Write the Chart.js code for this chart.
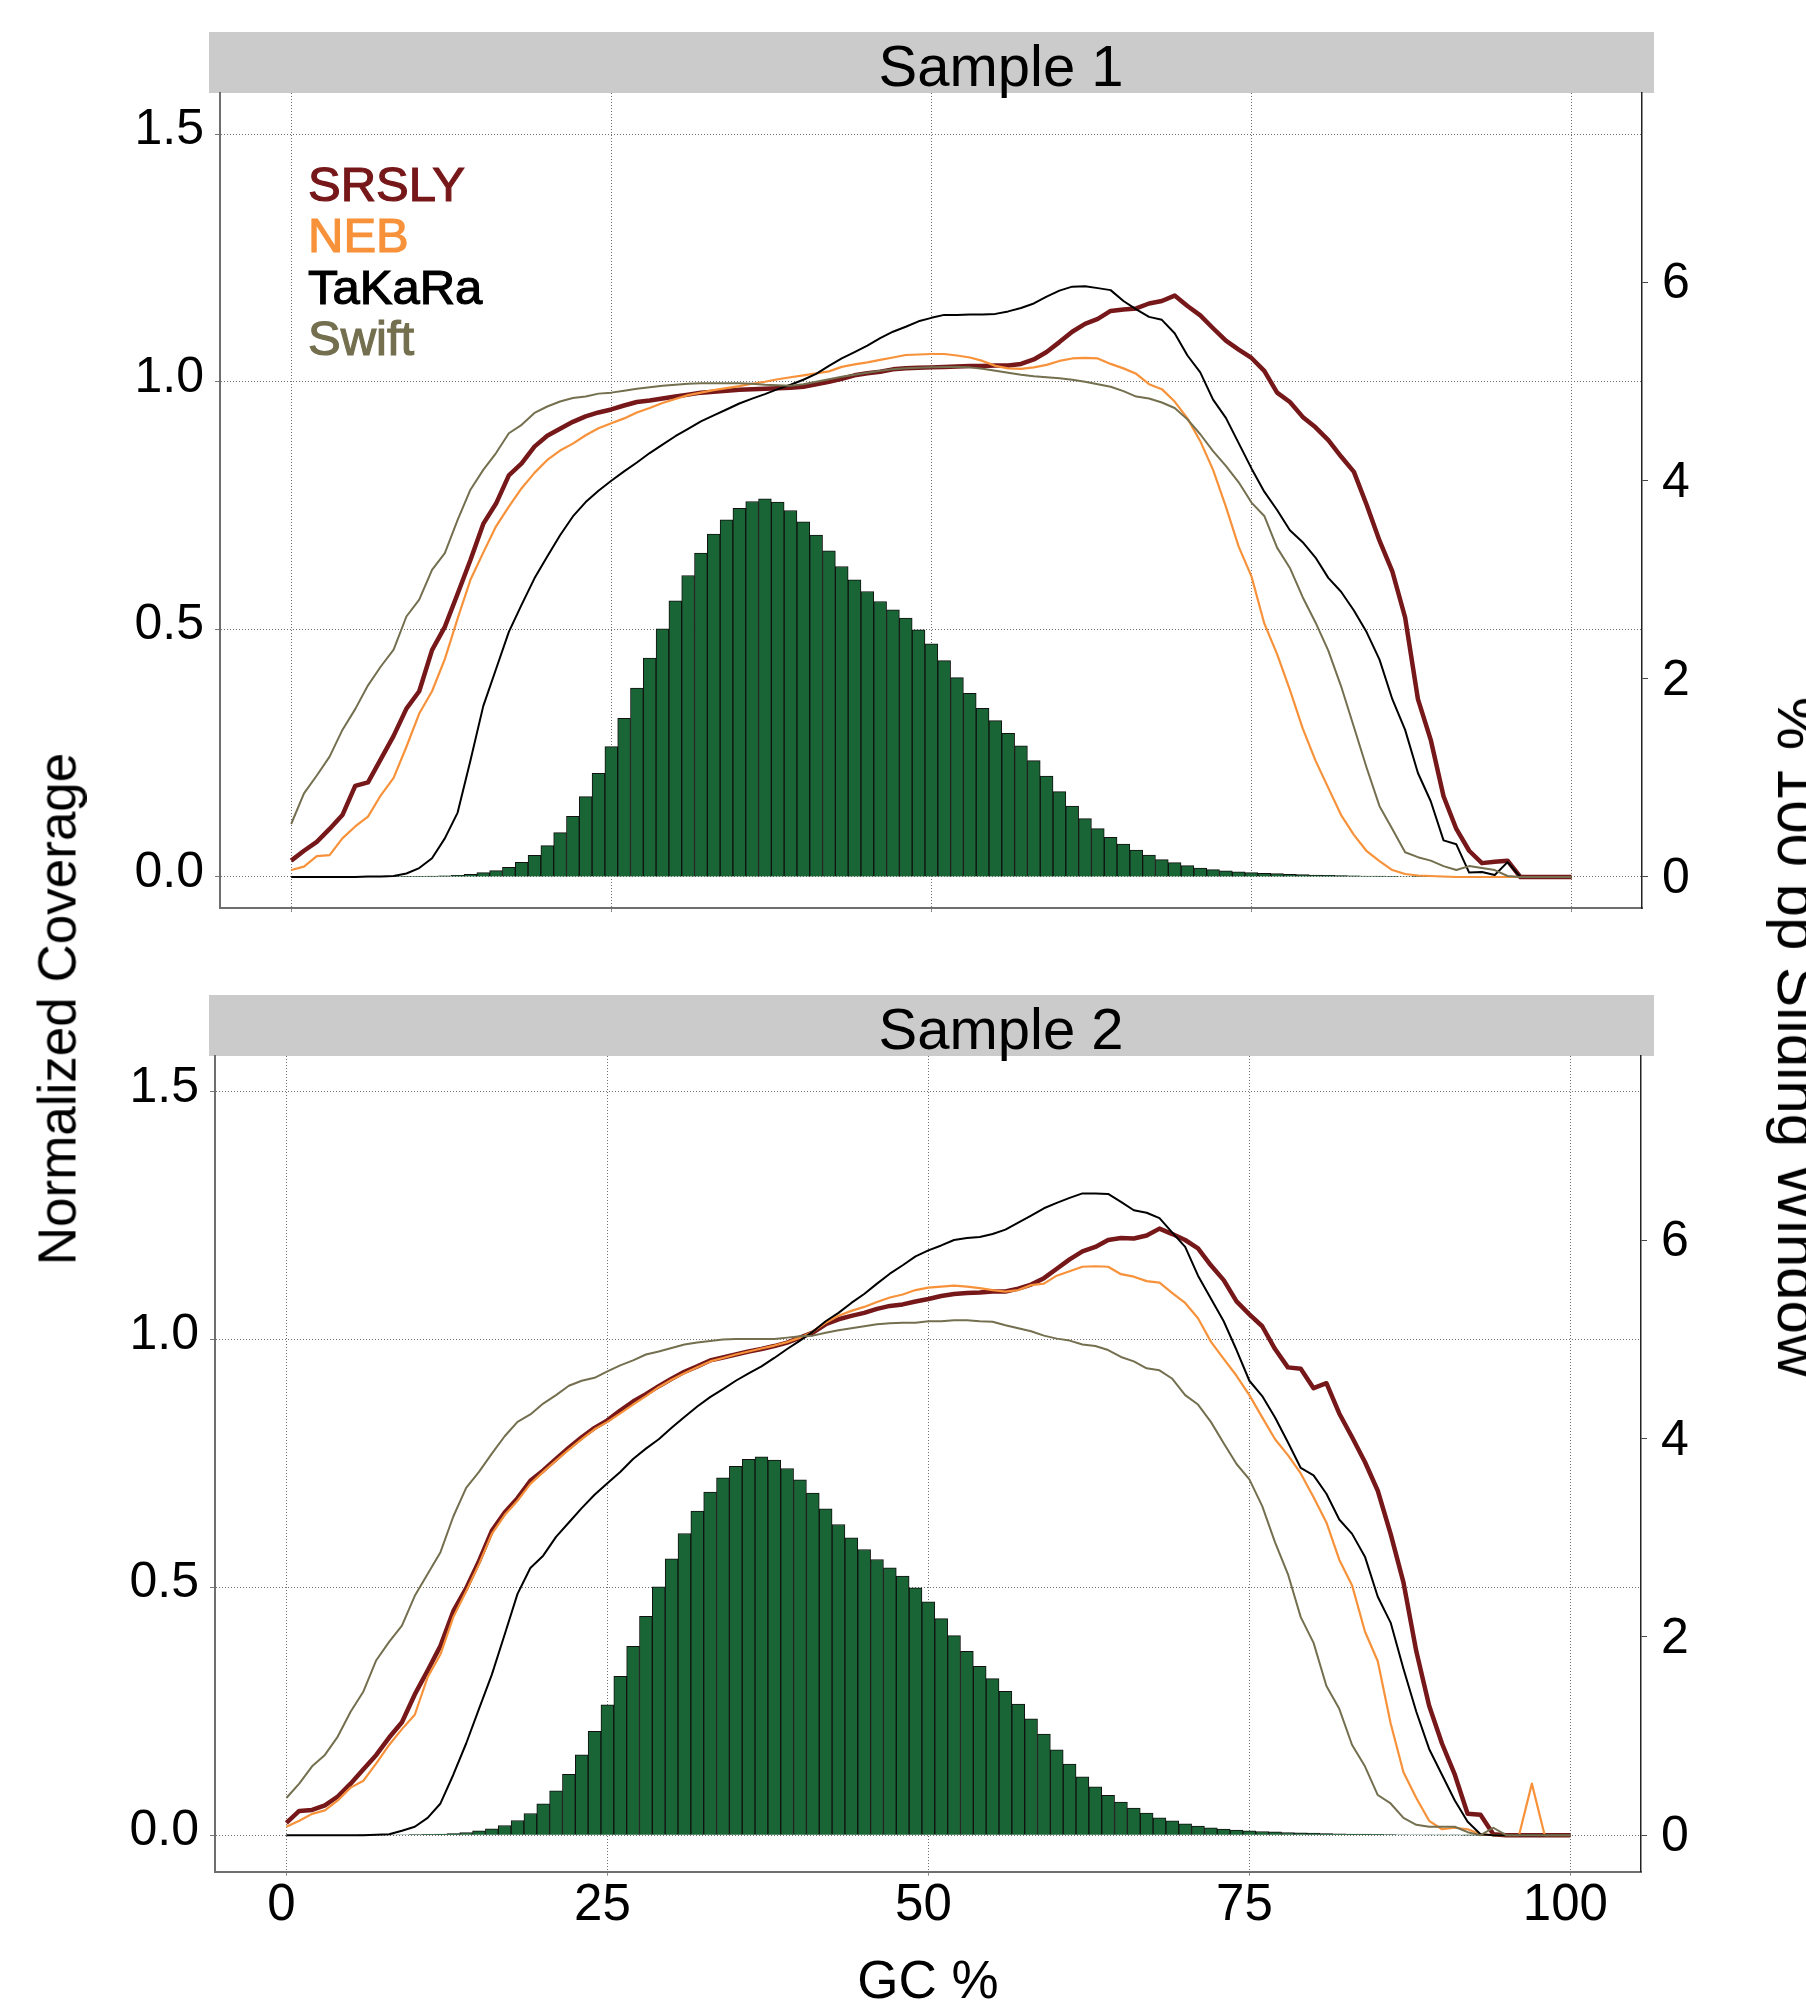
<!DOCTYPE html>
<html lang="en">
<head>
<meta charset="utf-8">
<title>GC bias — Sample 1 / Sample 2</title>
<script src="https://cdn.jsdelivr.net/npm/chart.js@4.4.1/dist/chart.umd.min.js"></script>
<style>
  html, body { margin: 0; padding: 0; background: #fff; overflow: hidden; }
  #page { position: relative; width: 1806px; height: 2008px; font-family: "Liberation Sans", Arial, Helvetica, sans-serif; }
  canvas { position: absolute; left: 0; }
  #panel1 { top: 0; }
  #panel2 { top: 960px; }
  .axis-title { position: absolute; white-space: nowrap; line-height: 1; color: #000; }
  #ytitle-left  { left: 57px;   top: 1009px; font-size: 53px; transform: translate(-50%, -50%) rotate(-90deg); }
  #ytitle-right { left: 1798px; top: 1037px; font-size: 60px; transform: translate(-50%, -50%) rotate(90deg); }
</style>
</head>
<body>
<div id="page">
  <canvas id="panel1" width="1806" height="960"></canvas>
  <canvas id="panel2" width="1806" height="1048"></canvas>
  <div class="axis-title" id="ytitle-left">Normalized Coverage</div>
  <div class="axis-title" id="ytitle-right">% 100 bp Sliding Window</div>
</div>
<script>
// ============================================
//  GC bias plot — two samples, four kits
// ============================================

// ── Data ─────────────────────────────────────
const GC_PCT = [
  0, 1, 2, 3, 4, 5, 6, 7, 8, 9,
  10, 11, 12, 13, 14, 15, 16, 17, 18, 19,
  20, 21, 22, 23, 24, 25, 26, 27, 28, 29,
  30, 31, 32, 33, 34, 35, 36, 37, 38, 39,
  40, 41, 42, 43, 44, 45, 46, 47, 48, 49,
  50, 51, 52, 53, 54, 55, 56, 57, 58, 59,
  60, 61, 62, 63, 64, 65, 66, 67, 68, 69,
  70, 71, 72, 73, 74, 75, 76, 77, 78, 79,
  80, 81, 82, 83, 84, 85, 86, 87, 88, 89,
  90, 91, 92, 93, 94, 95, 96, 97, 98, 99,
  100
];

// % of 100 bp windows at each GC % (right axis, same in both panels)
const WINDOW_PCT = [
  0, 0, 0, 0, 0, 0, 0.001, 0.002, 0.003, 0.004,
  0.006, 0.008, 0.011, 0.017, 0.027, 0.044, 0.064, 0.098, 0.148, 0.219,
  0.316, 0.448, 0.613, 0.811, 1.047, 1.316, 1.603, 1.906, 2.209, 2.505,
  2.788, 3.044, 3.269, 3.461, 3.606, 3.721, 3.791, 3.818, 3.785, 3.700,
  3.586, 3.451, 3.293, 3.135, 3.000, 2.882, 2.781, 2.697, 2.613, 2.495,
  2.354, 2.185, 2.013, 1.855, 1.704, 1.579, 1.451, 1.323, 1.175, 1.020,
  0.862, 0.717, 0.589, 0.488, 0.401, 0.333, 0.273, 0.222, 0.175, 0.145,
  0.114, 0.091, 0.074, 0.061, 0.051, 0.044, 0.037, 0.034, 0.027, 0.024,
  0.020, 0.017, 0.014, 0.012, 0.010, 0.008, 0.006, 0.005, 0.004, 0.003,
  0.002, 0.002, 0.001, 0.001, 0.001, 0, 0, 0, 0, 0,
  0
];

// Sample 1 — normalized coverage
const S1_SRSLY = [
  0.033, 0.053, 0.071, 0.097, 0.125, 0.184, 0.191, 0.238, 0.285, 0.340,
  0.375, 0.458, 0.505, 0.572, 0.640, 0.713, 0.754, 0.811, 0.835, 0.869,
  0.891, 0.905, 0.919, 0.930, 0.938, 0.944, 0.952, 0.959, 0.962, 0.966,
  0.970, 0.974, 0.978, 0.980, 0.982, 0.984, 0.985, 0.986, 0.987, 0.988,
  0.990, 0.995, 1.000, 1.006, 1.013, 1.017, 1.020, 1.025, 1.027, 1.028,
  1.029, 1.030, 1.031, 1.032, 1.032, 1.033, 1.033, 1.036, 1.045, 1.060,
  1.080, 1.101, 1.117, 1.127, 1.143, 1.146, 1.148, 1.158, 1.163, 1.174,
  1.153, 1.134, 1.108, 1.083, 1.065, 1.048, 1.022, 0.978, 0.959, 0.929,
  0.908, 0.882, 0.849, 0.818, 0.751, 0.679, 0.617, 0.524, 0.359, 0.277,
  0.163, 0.097, 0.053, 0.028, 0.031, 0.033, 0, 0, 0, 0,
  0
];
const S1_NEB = [
  0.014, 0.021, 0.042, 0.044, 0.078, 0.102, 0.122, 0.165, 0.200, 0.263,
  0.330, 0.375, 0.440, 0.522, 0.600, 0.655, 0.708, 0.748, 0.785, 0.816,
  0.842, 0.861, 0.875, 0.892, 0.906, 0.916, 0.926, 0.938, 0.947, 0.957,
  0.965, 0.973, 0.978, 0.983, 0.987, 0.991, 0.996, 1.000, 1.005, 1.009,
  1.013, 1.017, 1.021, 1.030, 1.035, 1.039, 1.044, 1.049, 1.054, 1.055,
  1.056, 1.056, 1.053, 1.049, 1.042, 1.032, 1.027, 1.026, 1.029, 1.034,
  1.042, 1.047, 1.048, 1.047, 1.036, 1.027, 1.016, 0.995, 0.985, 0.960,
  0.926, 0.880, 0.822, 0.748, 0.667, 0.607, 0.512, 0.450, 0.378, 0.300,
  0.235, 0.180, 0.125, 0.085, 0.052, 0.032, 0.014, 0.006, 0.003, 0.002,
  0.001, 0, 0, 0, 0, 0, 0, 0, 0, 0,
  0
];
const S1_TAKARA = [
  0, 0, 0, 0, 0, 0, 0.001, 0.001, 0.002, 0.007,
  0.018, 0.038, 0.078, 0.130, 0.235, 0.345, 0.420, 0.495, 0.550, 0.603,
  0.647, 0.690, 0.728, 0.757, 0.780, 0.800, 0.819, 0.837, 0.856, 0.873,
  0.890, 0.905, 0.920, 0.932, 0.944, 0.956, 0.966, 0.975, 0.985, 0.994,
  1.004, 1.016, 1.032, 1.047, 1.060, 1.073, 1.088, 1.101, 1.111, 1.122,
  1.129, 1.135, 1.135, 1.136, 1.136, 1.137, 1.142, 1.149, 1.158, 1.172,
  1.184, 1.192, 1.193, 1.189, 1.185, 1.163, 1.146, 1.131, 1.125, 1.098,
  1.053, 1.019, 0.964, 0.927, 0.876, 0.825, 0.778, 0.741, 0.700, 0.676,
  0.645, 0.604, 0.576, 0.538, 0.494, 0.439, 0.359, 0.297, 0.210, 0.153,
  0.074, 0.066, 0.009, 0.010, 0.004, 0.030, 0, 0, 0, 0,
  0
];
const S1_SWIFT = [
  0.107, 0.169, 0.205, 0.243, 0.297, 0.339, 0.387, 0.425, 0.459, 0.526,
  0.560, 0.620, 0.654, 0.721, 0.782, 0.822, 0.856, 0.896, 0.913, 0.937,
  0.950, 0.960, 0.967, 0.970, 0.976, 0.978, 0.982, 0.986, 0.989, 0.992,
  0.994, 0.996, 0.997, 0.997, 0.997, 0.997, 0.996, 0.994, 0.993, 0.992,
  0.995, 1.000, 1.005, 1.010, 1.014, 1.018, 1.022, 1.025, 1.027, 1.028,
  1.029, 1.030, 1.030, 1.029, 1.026, 1.022, 1.018, 1.014, 1.011, 1.009,
  1.007, 1.004, 1.000, 0.995, 0.990, 0.981, 0.970, 0.966, 0.958, 0.947,
  0.924, 0.894, 0.860, 0.830, 0.797, 0.756, 0.729, 0.665, 0.624, 0.565,
  0.514, 0.457, 0.385, 0.303, 0.220, 0.143, 0.097, 0.050, 0.040, 0.033,
  0.022, 0.014, 0.022, 0.018, 0.014, 0.002, 0, 0, 0, 0,
  0
];

// Sample 2 — normalized coverage
const S2_SRSLY = [
  0.025, 0.049, 0.051, 0.060, 0.078, 0.104, 0.133, 0.162, 0.197, 0.228,
  0.284, 0.332, 0.382, 0.452, 0.498, 0.553, 0.614, 0.651, 0.680, 0.715,
  0.736, 0.759, 0.782, 0.803, 0.822, 0.837, 0.857, 0.875, 0.890, 0.906,
  0.921, 0.935, 0.946, 0.958, 0.964, 0.970, 0.976, 0.981, 0.987, 0.994,
  1.004, 1.014, 1.031, 1.041, 1.048, 1.054, 1.062, 1.068, 1.071, 1.077,
  1.082, 1.088, 1.092, 1.094, 1.095, 1.097, 1.097, 1.103, 1.111, 1.124,
  1.143, 1.162, 1.178, 1.187, 1.201, 1.205, 1.204, 1.210, 1.224, 1.213,
  1.201, 1.184, 1.150, 1.120, 1.077, 1.051, 1.027, 0.981, 0.944, 0.941,
  0.902, 0.912, 0.851, 0.803, 0.753, 0.695, 0.608, 0.510, 0.371, 0.261,
  0.185, 0.122, 0.043, 0.041, 0.002, 0, 0, 0, 0, 0,
  0
];
const S2_NEB = [
  0.017, 0.029, 0.043, 0.050, 0.070, 0.096, 0.110, 0.145, 0.182, 0.214,
  0.243, 0.319, 0.365, 0.440, 0.492, 0.547, 0.608, 0.646, 0.675, 0.709,
  0.733, 0.756, 0.778, 0.799, 0.819, 0.834, 0.851, 0.869, 0.886, 0.904,
  0.919, 0.932, 0.944, 0.956, 0.963, 0.970, 0.976, 0.982, 0.988, 0.995,
  1.004, 1.016, 1.034, 1.048, 1.058, 1.066, 1.076, 1.085, 1.091, 1.100,
  1.105, 1.107, 1.109, 1.107, 1.104, 1.100, 1.097, 1.100, 1.110, 1.113,
  1.129, 1.138, 1.147, 1.148, 1.147, 1.132, 1.127, 1.118, 1.115, 1.094,
  1.074, 1.043, 0.996, 0.961, 0.927, 0.888, 0.843, 0.799, 0.767, 0.730,
  0.682, 0.631, 0.556, 0.504, 0.411, 0.351, 0.226, 0.127, 0.075, 0.029,
  0.012, 0.015, 0.012, 0.002, 0, 0, 0, 0.104, 0, 0,
  0
];
const S2_TAKARA = [
  0, 0, 0, 0, 0, 0, 0, 0.001, 0.002, 0.009,
  0.017, 0.035, 0.064, 0.122, 0.185, 0.255, 0.324, 0.405, 0.487, 0.539,
  0.564, 0.602, 0.631, 0.660, 0.687, 0.710, 0.733, 0.759, 0.780, 0.799,
  0.822, 0.844, 0.865, 0.884, 0.900, 0.917, 0.932, 0.946, 0.963, 0.981,
  0.998, 1.016, 1.037, 1.054, 1.074, 1.092, 1.113, 1.133, 1.150, 1.168,
  1.180, 1.190, 1.201, 1.205, 1.207, 1.213, 1.222, 1.236, 1.250, 1.265,
  1.276, 1.286, 1.295, 1.295, 1.294, 1.278, 1.261, 1.256, 1.245, 1.216,
  1.187, 1.129, 1.083, 1.037, 0.979, 0.917, 0.886, 0.843, 0.793, 0.741,
  0.726, 0.689, 0.637, 0.608, 0.562, 0.481, 0.429, 0.336, 0.249, 0.174,
  0.122, 0.070, 0.027, 0.002, 0, 0, 0, 0, 0, 0,
  0
];
const S2_SWIFT = [
  0.075, 0.104, 0.139, 0.162, 0.199, 0.249, 0.290, 0.353, 0.390, 0.423,
  0.483, 0.527, 0.571, 0.643, 0.701, 0.733, 0.770, 0.805, 0.834, 0.849,
  0.871, 0.888, 0.907, 0.917, 0.923, 0.936, 0.948, 0.958, 0.970, 0.976,
  0.983, 0.990, 0.994, 0.997, 1.000, 1.001, 1.001, 1.001, 1.001, 1.004,
  1.007, 1.008, 1.014, 1.019, 1.023, 1.027, 1.031, 1.033, 1.034, 1.034,
  1.037, 1.037, 1.039, 1.039, 1.037, 1.036, 1.029, 1.023, 1.017, 1.008,
  1.002, 0.998, 0.990, 0.987, 0.979, 0.965, 0.956, 0.942, 0.938, 0.921,
  0.888, 0.869, 0.834, 0.791, 0.749, 0.718, 0.664, 0.591, 0.527, 0.440,
  0.388, 0.301, 0.255, 0.182, 0.139, 0.081, 0.064, 0.035, 0.021, 0.017,
  0.017, 0.017, 0.006, 0, 0.015, 0, 0, 0, 0, 0,
  0
];

const KITS         = ["SRSLY", "NEB", "TaKaRa", "Swift"];
const SAMPLE_NAMES = ["Sample 1", "Sample 2"];

const X_TICKS  = [0, 25, 50, 75, 100];
const Y_TICKS  = [0, 0.5, 1, 1.5];
const Y2_TICKS = [0, 2, 4, 6];

// ── Style / layout ───────────────────────────
const FONT        = "'Liberation Sans', Arial, Helvetica, sans-serif";
const KIT_COLORS  = ["#761719", "#f7923a", "#000000", "#736f4f"];
const KIT_WIDTHS  = [4.5, 2.2, 2, 2];
const BAR_FILL    = "#1a6535";
const GRID_COLOR  = "#707070";
const AXIS_COLOR  = "#6e6e6e";
const SEC_PER_PRI = 5;            // right axis = 5 x left axis
const X_MIN = -5.56, X_MAX = 105.5;

const PANELS = [
  { canvas: "panel1", name: SAMPLE_NAMES[0], series: [S1_SRSLY, S1_NEB, S1_TAKARA, S1_SWIFT],
    top: 93, left: 220, right: 1642, bottom: 908, yMin: -0.0626, yMax: 1.583,
    stripTop: 32, showX: false, legend: true },
  { canvas: "panel2", name: SAMPLE_NAMES[1], series: [S2_SRSLY, S2_NEB, S2_TAKARA, S2_SWIFT],
    top: 96, left: 215, right: 1641, bottom: 911.7, yMin: -0.0737, yMax: 1.5723,
    stripTop: 35, showX: true, legend: false }
];

Chart.defaults.font.family = FONT;
Chart.defaults.color = "#000";

// grey facet strip with the sample name
const stripPlugin = {
  id: "strip",
  beforeDraw(chart, args, o) {
    const ctx = chart.ctx;
    ctx.save();
    ctx.fillStyle = "#cbcbcb";
    ctx.fillRect(209, o.top, 1654 - 209, chart.chartArea.top - o.top);
    ctx.fillStyle = "#000";
    ctx.font = "58px " + FONT;
    ctx.textAlign = "center";
    ctx.textBaseline = "alphabetic";
    ctx.fillText(o.text, 1001, o.top + 54);
    ctx.restore();
  }
};

// coloured kit names, top-left inside the plot
const kitLegend = {
  id: "kitLegend",
  afterDatasetsDraw(chart, args, o) {
    if (!o.show) return;
    const { ctx, chartArea } = chart;
    ctx.save();
    ctx.font = "49px " + FONT;
    ctx.textAlign = "left";
    ctx.textBaseline = "alphabetic";
    ctx.lineWidth = 1.2;
    chart.data.datasets.filter(d => d.type === "line").forEach((d, i) => {
      const x = chartArea.left + 88, y = chartArea.top + 108 + i * 51.3;
      ctx.fillStyle = d.borderColor;
      ctx.strokeStyle = d.borderColor;
      ctx.fillText(d.label, x, y);
      ctx.strokeText(d.label, x, y);
    });
    ctx.restore();
  }
};

function buildPanel(p) {
  const canvas = document.getElementById(p.canvas);
  const H = canvas.height;

  const bars = {
    type: "bar",
    label: "100 bp windows",
    data: GC_PCT.map((g, i) => ({ x: g, y: WINDOW_PCT[i] })),
    yAxisID: "y2",
    backgroundColor: BAR_FILL,
    borderColor: "#111",
    borderWidth: 1,
    barPercentage: 1,
    categoryPercentage: 1,
    order: 10
  };

  const lines = KITS.map((name, k) => ({
    type: "line",
    label: name,
    data: GC_PCT.map((g, i) => ({ x: g, y: p.series[k][i] })),
    yAxisID: "y",
    borderColor: KIT_COLORS[k],
    borderWidth: KIT_WIDTHS[k],
    pointRadius: 0,
    tension: 0,
    fill: false,
    borderJoinStyle: "round",
    order: 4 - k
  }));

  return new Chart(canvas, {
    type: "bar",
    data: { datasets: [bars, ...lines] },
    plugins: [stripPlugin, kitLegend],
    options: {
      responsive: false,
      animation: false,
      events: [],
      layout: { padding: { top: p.top, left: 0, right: 0, bottom: 0 } },
      plugins: {
        legend:    { display: false },
        tooltip:   { enabled: false },
        strip:     { top: p.stripTop, text: p.name },
        kitLegend: { show: p.legend }
      },
      scales: {
        x: {
          type: "linear",
          offset: false,
          min: X_MIN, max: X_MAX,
          afterBuildTicks: s => { s.ticks = X_TICKS.map(v => ({ value: v })); },
          afterFit: s => { s.height = H - p.bottom; },
          ticks: { display: p.showX, autoSkip: false, maxRotation: 0, padding: 0,
                   labelOffset: -5, font: { size: 51 }, color: "#000" },
          grid: { offset: false, color: GRID_COLOR, lineWidth: 1, tickLength: 4, tickColor: "#888" },
          border: { color: AXIS_COLOR, width: 2, dash: [1, 2] },
          title: { display: p.showX, text: "GC %", color: "#000", padding: 0,
                   font: { size: 53, lineHeight: 0.94 } }
        },
        y: {
          type: "linear",
          position: "left",
          min: p.yMin, max: p.yMax,
          afterBuildTicks: s => { s.ticks = Y_TICKS.map(v => ({ value: v })); },
          afterFit: s => { s.width = p.left; },
          ticks: { autoSkip: false, padding: 11, labelOffset: -4,
                   font: { size: 50 }, color: "#000",
                   callback: v => Number(v).toFixed(1) },
          grid: { color: GRID_COLOR, lineWidth: 1, tickLength: 5, tickColor: "#777" },
          border: { color: AXIS_COLOR, width: 2, dash: [1, 2] }
        },
        y2: {
          type: "linear",
          position: "right",
          min: p.yMin * SEC_PER_PRI, max: p.yMax * SEC_PER_PRI,
          afterBuildTicks: s => { s.ticks = Y2_TICKS.map(v => ({ value: v })); },
          afterFit: s => { s.width = 1806 - p.right; },
          ticks: { autoSkip: false, padding: 14, labelOffset: 2,
                   font: { size: 50 }, color: "#000" },
          grid: { drawOnChartArea: false, tickLength: 6, tickColor: "#444" },
          border: { color: "#222", width: 1.5 }
        }
      }
    }
  });
}

PANELS.forEach(buildPanel);
</script>
</body>
</html>
